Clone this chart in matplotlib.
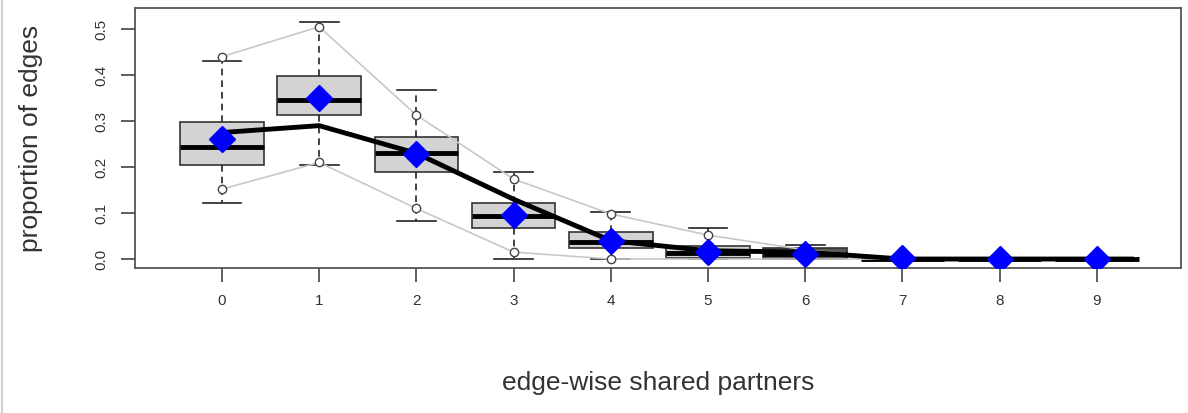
import matplotlib.pyplot as plt
from matplotlib.lines import Line2D

plt.rcParams['font.family'] = ['Liberation Sans', 'DejaVu Sans']

# edge-wise shared partner counts
esp = [0, 1, 2, 3, 4, 5, 6, 7, 8, 9]

# simulated distributions (box stats)
whisk_lo = [0.122, 0.205, 0.083, 0.000, 0.000, 0.000, 0.000, 0.0, 0.0, 0.0]
box_lo   = [0.205, 0.313, 0.190, 0.068, 0.024, 0.003, 0.000, 0.0, 0.0, 0.0]
box_med  = [0.243, 0.345, 0.230, 0.094, 0.037, 0.013, 0.010, 0.0, 0.0, 0.0]
box_hi   = [0.297, 0.397, 0.266, 0.122, 0.058, 0.029, 0.025, 0.0, 0.0, 0.0]
whisk_hi = [0.430, 0.515, 0.367, 0.190, 0.102, 0.068, 0.030, 0.0, 0.0, 0.0]

# 95% bands
band_lo = [0.152, 0.210, 0.110, 0.015, 0.000, 0.000, 0.000, 0.0, 0.0, 0.0]
band_hi = [0.440, 0.505, 0.313, 0.174, 0.098, 0.052, 0.020, 0.0, 0.0, 0.0]

# observed network and model means
observed = [0.275, 0.290, 0.230, 0.130, 0.040, 0.018, 0.015, 0.0, 0.0, 0.0]
model_mean = [0.260, 0.350, 0.228, 0.095, 0.040, 0.015, 0.010, 0.002, 0.0, 0.0]

fig = plt.figure(figsize=(11.88, 4.13), dpi=100)
ax = fig.add_axes([0.1136, 0.351, 0.8805, 0.6295])

stats = []
for i in range(len(esp)):
    stats.append(dict(whislo=whisk_lo[i], q1=box_lo[i], med=box_med[i],
                      q3=box_hi[i], whishi=whisk_hi[i], fliers=[]))

bp = ax.bxp(stats, positions=esp, widths=0.86, capwidths=0.4,
            patch_artist=True, showfliers=False,
            boxprops=dict(facecolor='#d3d3d3', edgecolor='#333333', linewidth=1.2),
            medianprops=dict(color='black', linewidth=3.5),
            whiskerprops=dict(color='#222222', linestyle=(0, (4, 3)), linewidth=1.2),
            capprops=dict(color='#222222', linewidth=1.2))
bp['boxes'][6].set_facecolor('#5a5a5a')

ax.plot(esp, band_lo, color='#c8c8c8', lw=1.2, marker='o', ms=6,
        mfc='white', mec='#444444', mew=1, zorder=3)
ax.plot(esp, band_hi, color='#c8c8c8', lw=1.2, marker='o', ms=6,
        mfc='white', mec='#444444', mew=1, zorder=3)

ax.plot(esp + [esp[-1] + 0.38], observed + [observed[-1]],
        color='black', lw=3.5, zorder=4, solid_capstyle='butt')
ax.plot(esp, model_mean, linestyle='none', marker='D', ms=13,
        color='#0000ff', mec='#0000ff', zorder=5)

ax.set_xlim(-0.895, 9.866)
ax.set_ylim(-0.0196, 0.5457)
ax.set_xticks(esp)
ax.set_xticklabels([str(v) for v in esp])
ax.set_yticks([0.0, 0.1, 0.2, 0.3, 0.4, 0.5])
ax.set_yticklabels(['0.0', '0.1', '0.2', '0.3', '0.4', '0.5'], rotation=90, va='center')
ax.tick_params(axis='both', length=10, width=1.2, color='#444444',
               labelsize=11, labelcolor='#333333', pad=9)

for s in ax.spines.values():
    s.set_color('#555555')
    s.set_linewidth(1.3)

ax.set_xlabel('edge-wise shared partners', fontsize=19, color='#333333', labelpad=45)
ax.set_ylabel('proportion of edges', fontsize=19, color='#333333', labelpad=37)

# thin frame edge on the left of the canvas
fig.add_artist(Line2D([0.002, 0.002], [0, 1], transform=fig.transFigure,
                      color='#d0d0d0', lw=1.5))

fig.savefig('out.png', dpi=100)
